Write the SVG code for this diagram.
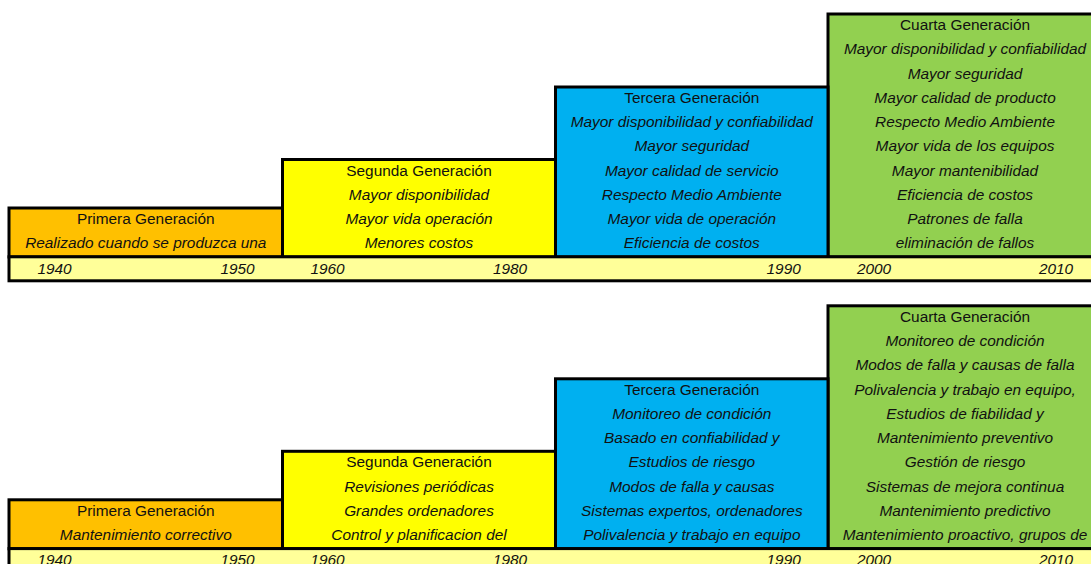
<svg xmlns="http://www.w3.org/2000/svg" width="1091" height="564" viewBox="0 0 1091 564">
<style>
.box{stroke:#000;stroke-width:3}
.o{fill:#FFC000}.y{fill:#FFFF00}.b{fill:#00B0F0}.g{fill:#92D050}.t{fill:#FFFF99}
text{font-family:"Liberation Sans",Arial,sans-serif;font-size:15.4px;fill:#111;text-anchor:middle}
.i{font-style:italic}
</style>
<rect width="1091" height="564" fill="#fff"/>
<g id="top">
<g id="top-gen4"><rect class="box g" x="828" y="14" width="280" height="243"/>
<text x="965" y="30">Cuarta Generación</text>
<text class="i" x="965" y="54.3">Mayor disponibilidad y confiabilidad</text>
<text class="i" x="965" y="78.5">Mayor seguridad</text>
<text class="i" x="965" y="102.8">Mayor calidad de producto</text>
<text class="i" x="965" y="127.1">Respecto Medio Ambiente</text>
<text class="i" x="965" y="151.4">Mayor vida de los equipos</text>
<text class="i" x="965" y="175.6">Mayor mantenibilidad</text>
<text class="i" x="965" y="199.9">Eficiencia de costos</text>
<text class="i" x="965" y="224.2">Patrones de falla</text>
<text class="i" x="965" y="248.4">eliminación de fallos</text></g>
<g id="top-gen3"><rect class="box b" x="555.5" y="87" width="272.5" height="170"/>
<text x="691.8" y="102.8">Tercera Generación</text>
<text class="i" x="691.8" y="127.1">Mayor disponibilidad y confiabilidad</text>
<text class="i" x="691.8" y="151.4">Mayor seguridad</text>
<text class="i" x="691.8" y="175.6">Mayor calidad de servicio</text>
<text class="i" x="691.8" y="199.9">Respecto Medio Ambiente</text>
<text class="i" x="691.8" y="224.2">Mayor vida de operación</text>
<text class="i" x="691.8" y="248.4">Eficiencia de costos</text></g>
<g id="top-gen2"><rect class="box y" x="282.5" y="159.5" width="273" height="97.5"/>
<text x="419" y="175.6">Segunda Generación</text>
<text class="i" x="419" y="199.9">Mayor disponibilidad</text>
<text class="i" x="419" y="224.2">Mayor vida operación</text>
<text class="i" x="419" y="248.4">Menores costos</text></g>
<g id="top-gen1"><rect class="box o" x="9" y="208" width="273.5" height="49"/>
<text x="145.8" y="224.2">Primera Generación</text>
<text class="i" x="145.8" y="248.4">Realizado cuando se produzca una</text></g>
<g id="top-timeline"><rect class="box t" x="9" y="256.8" width="1100" height="24"/>
<text class="i" x="54.5" y="273.6">1940</text>
<text class="i" x="237.5" y="273.6">1950</text>
<text class="i" x="327.5" y="273.6">1960</text>
<text class="i" x="510" y="273.6">1980</text>
<text class="i" x="783.7" y="273.6">1990</text>
<text class="i" x="874" y="273.6">2000</text>
<text class="i" x="1056" y="273.6">2010</text></g>
</g>
<g id="bottom" transform="translate(0,291.8)">
<g id="bottom-gen4"><rect class="box g" x="828" y="14" width="280" height="243"/>
<text x="965" y="30">Cuarta Generación</text>
<text class="i" x="965" y="54.3">Monitoreo de condición</text>
<text class="i" x="965" y="78.5">Modos de falla y causas de falla</text>
<text class="i" x="965" y="102.8">Polivalencia y trabajo en equipo,</text>
<text class="i" x="965" y="127.1">Estudios de fiabilidad y</text>
<text class="i" x="965" y="151.4">Mantenimiento preventivo</text>
<text class="i" x="965" y="175.6">Gestión de riesgo</text>
<text class="i" x="965" y="199.9">Sistemas de mejora continua</text>
<text class="i" x="965" y="224.2">Mantenimiento predictivo</text>
<text class="i" x="965" y="248.4">Mantenimiento proactivo, grupos de</text></g>
<g id="bottom-gen3"><rect class="box b" x="555.5" y="87" width="272.5" height="170"/>
<text x="691.8" y="102.8">Tercera Generación</text>
<text class="i" x="691.8" y="127.1">Monitoreo de condición</text>
<text class="i" x="691.8" y="151.4">Basado en confiabilidad y</text>
<text class="i" x="691.8" y="175.6">Estudios de riesgo</text>
<text class="i" x="691.8" y="199.9">Modos de falla y causas</text>
<text class="i" x="691.8" y="224.2">Sistemas expertos, ordenadores</text>
<text class="i" x="691.8" y="248.4">Polivalencia y trabajo en equipo</text></g>
<g id="bottom-gen2"><rect class="box y" x="282.5" y="159.5" width="273" height="97.5"/>
<text x="419" y="175.6">Segunda Generación</text>
<text class="i" x="419" y="199.9">Revisiones periódicas</text>
<text class="i" x="419" y="224.2">Grandes ordenadores</text>
<text class="i" x="419" y="248.4">Control y planificacion del</text></g>
<g id="bottom-gen1"><rect class="box o" x="9" y="208" width="273.5" height="49"/>
<text x="145.8" y="224.2">Primera Generación</text>
<text class="i" x="145.8" y="248.4">Mantenimiento correctivo</text></g>
<g id="bottom-timeline"><rect class="box t" x="9" y="256.8" width="1100" height="24"/>
<text class="i" x="54.5" y="273.6">1940</text>
<text class="i" x="237.5" y="273.6">1950</text>
<text class="i" x="327.5" y="273.6">1960</text>
<text class="i" x="510" y="273.6">1980</text>
<text class="i" x="783.7" y="273.6">1990</text>
<text class="i" x="874" y="273.6">2000</text>
<text class="i" x="1056" y="273.6">2010</text></g>
</g>
<g id="connectors"/>
</svg>
